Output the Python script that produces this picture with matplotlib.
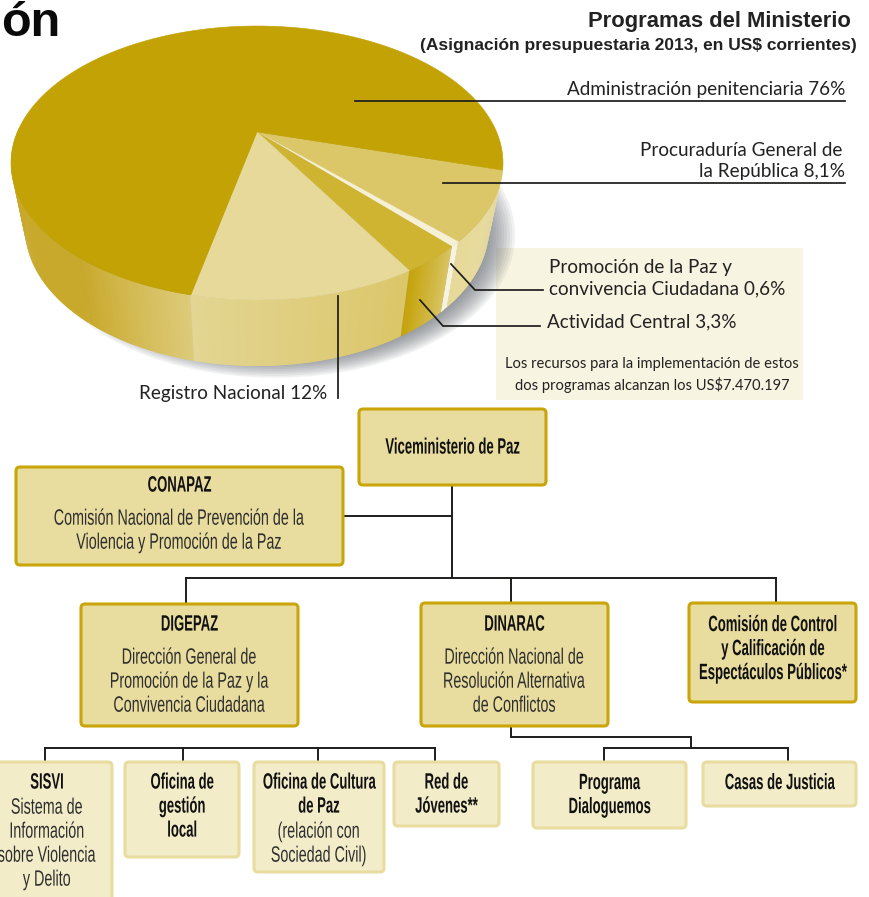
import numpy as np
import matplotlib
matplotlib.use("Agg")
import matplotlib.pyplot as plt
from matplotlib.patches import Polygon, Rectangle, FancyBboxPatch, Ellipse
from matplotlib.patheffects import AbstractPathEffect
from matplotlib.collections import PolyCollection
from matplotlib.colors import to_rgb
from matplotlib.transforms import Affine2D

# pie data
programs = ["Procuraduría", "Promoción", "Actividad Central", "Registro Nacional", "Administración"]
shares = [8.1, 0.6, 3.3, 12.0, 76.0]

# org chart text
dark_titles = ["Viceministerio de Paz", "CONAPAZ", "DIGEPAZ", "DINARAC",
               "Comisión de Control\ny Calificación de\nEspectáculos Públicos*"]
dark_bodies = ["", "Comisión Nacional de Prevención de la\nViolencia y Promoción de la Paz",
               "Dirección General de\nPromoción de la Paz y la\nConvivencia Ciudadana",
               "Dirección Nacional de\nResolución Alternativa\nde Conflictos", ""]
light_titles = ["SISVI", "Oficina de\ngestión\nlocal", "Oficina de Cultura\nde Paz", "Red de\nJóvenes**",
                "Programa\nDialoguemos", "Casas de Justicia"]
light_bodies = ["Sistema de\nInformación\nsobre Violencia\ny Delito", "", "(relación con\nSociedad Civil)", "", "", ""]

# layout, in pixels of the 870x897 picture
dark_boxes = [(359, 409, 546, 485), (16, 467, 343, 565), (81, 604, 298, 726), (421, 603, 608, 726), (689, 603, 856, 702)]
light_boxes = [(-6, 762, 112, 905), (125, 762, 239, 857), (254, 762, 384, 872), (394, 762, 499, 826),
               (533, 762, 686, 828), (703, 762, 856, 806)]
connectors = [
    [(452, 485), (452, 578)], [(343, 516), (452, 516)], [(186, 578), (776, 578)],
    [(186, 578), (186, 604)], [(511, 578), (511, 603)], [(776, 578), (776, 603)],
    [(45, 748), (435, 748)], [(45, 748), (45, 762)], [(183, 748), (183, 762)], [(318, 748), (318, 762)], [(435, 748), (435, 762)],
    [(511, 726), (511, 737), (691, 737), (691, 748)], [(604, 748), (788, 748)], [(604, 748), (604, 762)], [(788, 748), (788, 762)],
]
leaders = [[(355, 101), (845, 101)], [(443, 183), (845, 183)], [(451, 264), (475, 290), (543, 290)],
           [(420, 300), (443, 326), (540, 326)], [(338, 296), (338, 398)]]

top_colors = ["#dcc768", "#f6f0d4", "#cfb431", "#e6d99a", "#c2a204"]
wall_colors = [("#e9dda6", "#e6d998"), ("#f8f3df", "#f8f3df"), ("#d8c462", "#c5a30c"),
               ("#dbc669", "#e3d592"), ("#ddcb7a", "#c9a92c")]

CX, CY, A, B = 257, 163, 246, 137
CY2, A2, B2 = 228, 232, 138
W = -0.115j

fig = plt.figure(figsize=(8.7, 8.97), dpi=100)
ax = fig.add_axes([0, 0, 1, 1])
ax.set_xlim(0, 870)
ax.set_ylim(897, 0)
ax.axis("off")

plain = "Liberation Sans"
label_font = ["Lato", "DejaVu Sans"]


class Tall(AbstractPathEffect):
    # no condensed font installed, so set small text and stretch it upward round its anchor
    def __init__(self, cy, sy):
        super().__init__()
        self.cy = cy
        self.sy = sy

    def draw_path(self, renderer, gc, tpath, affine, rgbFace=None):
        stretch = Affine2D().translate(0, -self.cy).scale(1, self.sy).translate(0, self.cy)
        renderer.draw_path(gc, tpath, affine + stretch, rgbFace)


def narrow_text(x, y, s, bold=False):
    size = 9.44 if bold else 10.32
    color = "#111111" if bold else "#2e2e2e"
    t = ax.text(x, y, s, fontsize=size, fontweight="bold" if bold else "normal", family=plain, color=color,
                ha="center", va="center", zorder=9)
    t.set_path_effects([Tall(ax.transData.transform((x, y))[1], 16 / size)])


def rim_angle(theta):
    # perspective of the round pie: a disc map moves the centre up the ellipse
    z = np.exp(1j * theta)
    return np.angle((z + W) / (1 + np.conj(W) * z))


def gradient_wall(p0, p1, c0, c1):
    phis = np.linspace(p0, p1, max(int(abs(p1 - p0) * 90), 2))
    c0, c1 = np.array(to_rgb(c0)), np.array(to_rgb(c1))
    quads, cols = [], []
    for k in range(len(phis) - 1):
        # each strip runs under the next one so no seams show
        a, b = phis[k], phis[min(k + 2, len(phis) - 1)]
        quads.append([(CX + A * np.cos(a), CY + B * np.sin(a)), (CX + A * np.cos(b), CY + B * np.sin(b)),
                      (CX + A2 * np.cos(b), CY2 + B2 * np.sin(b)), (CX + A2 * np.cos(a), CY2 + B2 * np.sin(a))])
        cols.append(c0 + (c1 - c0) * k / (len(phis) - 2))
    ax.add_collection(PolyCollection(quads, facecolors=cols, edgecolors="none", zorder=4))


# cream box sits under the shadow
ax.add_patch(Rectangle((496, 248), 307, 152, fc="#f8f4e2", ec="none", zorder=1))

# soft shadow, pushed to the lower right
for k in range(14):
    ax.add_patch(Ellipse((275, 235), 2 * (205 + k * 2.7), 2 * (120 + k * 1.75), fc="#5f666c", ec="none", alpha=0.085, zorder=2))

# start angle so the first slice starts at the right edge of the top
m0 = np.exp(1j * np.radians(3))
start = np.angle((m0 - W) / (1 - np.conj(W) * m0))
edges = start + 2 * np.pi * np.cumsum([0] + shares) / sum(shares)
phi_edges = rim_angle(edges)

apex = (CX, CY + B * (2 * W / (1 + abs(W) ** 2)).imag)
for i in range(len(shares)):
    thetas = np.linspace(edges[i], edges[i + 1], 200)
    phis = np.unwrap(rim_angle(thetas))
    pts = [apex] + list(zip(CX + A * np.cos(phis), CY + B * np.sin(phis)))
    ax.add_patch(Polygon(pts, closed=True, fc=top_colors[i], ec=top_colors[i], lw=0.4, zorder=6))

# side walls, only the front part shows
for i in range(len(shares) - 1):
    gradient_wall(phi_edges[i], phi_edges[i + 1], wall_colors[i][0], wall_colors[i][1])
# admin wall goes light to dark, then stays dark round the back
mid = np.radians(136)
gradient_wall(phi_edges[4], mid, wall_colors[4][0], wall_colors[4][1])
gradient_wall(mid, np.radians(195), wall_colors[4][1], wall_colors[4][1])

p = phi_edges[4]
ax.plot([CX + A * np.cos(p), CX + A2 * np.cos(p)], [CY + B * np.sin(p), CY2 + B2 * np.sin(p)], color="#e2d8a8", lw=0.6, zorder=5)

# leader lines
for pts in leaders:
    xs, ys = zip(*pts)
    ax.plot(xs, ys, color="#1d1d1b", lw=1.25, zorder=8, solid_joinstyle="miter")

# headings and labels
ax.text(1.5, 36, "ón", fontsize=35, fontweight="bold", family=plain, color="#0a0a0a", va="baseline", zorder=9)
ax.text(851, 21.5, "Programas del Ministerio", fontsize=15.8, fontweight="bold", family=plain, color="#222222", ha="right", va="center", zorder=9)
ax.text(857, 45.5, "(Asignación presupuestaria 2013, en US$ corrientes)", fontsize=12.5, fontweight="bold", family=plain, color="#222222", ha="right", va="center", zorder=9)

ax.text(845, 89, "Administración penitenciaria 76%", fontsize=13.6, family=label_font, color="#222222", ha="right", va="center", zorder=9)
ax.text(842, 150, "Procuraduría General de", fontsize=13.6, family=label_font, color="#222222", ha="right", va="center", zorder=9)
ax.text(845, 172, "la República 8,1%", fontsize=13.6, family=label_font, color="#222222", ha="right", va="center", zorder=9)
ax.text(549, 267, "Promoción de la Paz y", fontsize=13.6, family=label_font, color="#222222", va="center", zorder=9)
ax.text(549, 289, "convivencia Ciudadana 0,6%", fontsize=13.6, family=label_font, color="#222222", va="center", zorder=9)
ax.text(547, 322, "Actividad Central 3,3%", fontsize=13.6, family=label_font, color="#222222", va="center", zorder=9)
ax.text(327, 394, "Registro Nacional 12%", fontsize=13.6, family=label_font, color="#222222", ha="right", va="center", zorder=9)
ax.text(652, 364, "Los recursos para la implementación de estos", fontsize=10.6, family=label_font, color="#222222", ha="center", va="center", zorder=9)
ax.text(652, 385, "dos programas alcanzan los US$7.470.197", fontsize=10.6, family=label_font, color="#222222", ha="center", va="center", zorder=9)

# connectors under the boxes
for pts in connectors:
    xs, ys = zip(*pts)
    ax.plot(xs, ys, color="#1d1d1b", lw=1.4, zorder=3, solid_joinstyle="miter", solid_capstyle="projecting")


def org_box(box, title, body, fc, ec, first_y, cx=None, gap=24):
    x0, y0, x1, y1 = box
    ax.add_patch(FancyBboxPatch((x0, y0), x1 - x0, y1 - y0, boxstyle="round,pad=0,rounding_size=4",
                                fc=fc, ec=ec, lw=2.2, zorder=5))
    if cx is None:
        cx = (x0 + x1) / 2
    y = first_y
    for line in title.split("\n"):
        narrow_text(cx, y, line, bold=True)
        y += 24
    y += gap - 24
    if body:
        for line in body.split("\n"):
            narrow_text(cx, y, line)
            y += 24


dark_first = [448.5, 486.5, 625.5, 625.5, 626]
for i in range(len(dark_boxes)):
    org_box(dark_boxes[i], dark_titles[i], dark_bodies[i], "#e8dc9f", "#c9a50a", dark_first[i], gap=32)

light_first = [783.5, 783.5, 783.5, 783.5, 784, 784]
light_cx = [47, None, None, None, None, None]
for i in range(len(light_boxes)):
    org_box(light_boxes[i], light_titles[i], light_bodies[i], "#f3ecc9", "#e8dc9f", light_first[i], light_cx[i])

fig.savefig("out.png", dpi=100)
